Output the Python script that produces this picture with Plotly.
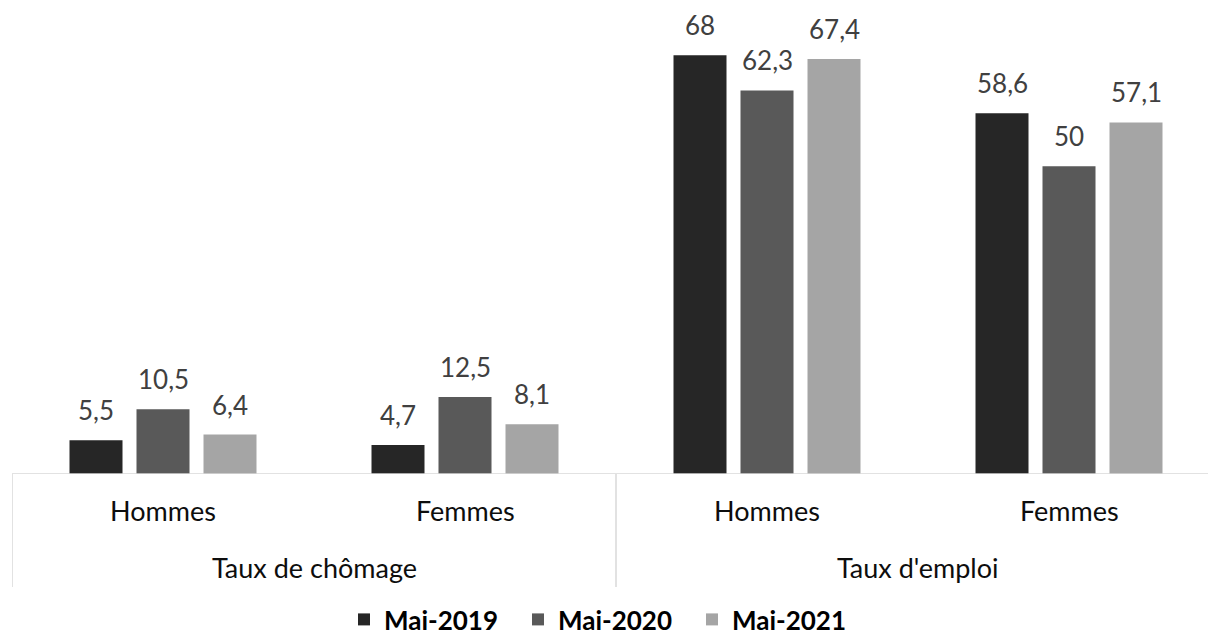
import plotly.graph_objects as go

groups = ["Taux de chômage", "Taux de chômage", "Taux d'emploi", "Taux d'emploi"]
sexes = ["Hommes", "Femmes", "Hommes", "Femmes"]
group_labels = ["Taux de chômage", "Taux d'emploi"]
series_names = ["Mai-2019", "Mai-2020", "Mai-2021"]
mai2019 = [5.5, 4.7, 68, 58.6]
mai2020 = [10.5, 12.5, 62.3, 50]
mai2021 = [6.4, 8.1, 67.4, 57.1]
colors = ["#262626", "#595959", "#A5A5A5"]

FONT = "Lato"
CAT_PX = 302          # pixel width of one category
BAR_STEP_PX = 67      # distance between bar centres within a group


def fmt(v):
    return ("%g" % v).replace(".", ",")


xs = list(range(len(sexes)))
fig = go.Figure()
annotations = []
for k, (name, vals, col) in enumerate(zip(series_names, [mai2019, mai2020, mai2021], colors)):
    fig.add_trace(go.Bar(x=xs, y=vals, name=name, marker_color=col, marker_line_width=0))
    for i, v in enumerate(vals):
        annotations.append(dict(x=i, y=v, xref="x", yref="y", text=fmt(v), showarrow=False,
                                xshift=(k - 1) * BAR_STEP_PX, yshift=12, yanchor="bottom",
                                font=dict(size=26, color="#404040", family=FONT)))

for i, s in enumerate(sexes):
    annotations.append(dict(x=i, y=-0.0858, xref="x", yref="paper", text=s,
                            showarrow=False, font=dict(size=27, color="#0d0d0d", family=FONT),
                            yanchor="middle"))
for j, g in enumerate(group_labels):
    annotations.append(dict(x=0.5 + 2 * j, y=-0.2158, xref="x", yref="paper", text=g,
                            showarrow=False, font=dict(size=27, color="#0d0d0d", family=FONT),
                            yanchor="middle"))

line_col = "#d9d9d9"
shapes = [dict(type="line", xref="paper", yref="y", x0=0, x1=1, y0=0, y1=0,
               line=dict(color=line_col, width=1.5))]
for xv in [-0.5, 1.5]:
    shapes.append(dict(type="line", xref="x", yref="paper", x0=xv, x1=xv, y0=0, y1=-0.262,
                       line=dict(color=line_col, width=1.5)))

W, H = 1208, 640
L = 12
plot_w = W - L
fig.update_layout(
    width=W, height=H,
    margin=dict(l=L, r=0, t=43, b=166, autoexpand=False),
    paper_bgcolor="white", plot_bgcolor="white",
    barmode="group", bargap=0.3344, bargroupgap=0.209,
    xaxis=dict(range=[-0.5, plot_w / CAT_PX - 0.5], showticklabels=False, showgrid=False,
               zeroline=False, showline=False),
    yaxis=dict(range=[0, 70], visible=False, showgrid=False, zeroline=False),
    showlegend=True,
    legend=dict(orientation="h", x=0.4958, xanchor="center", y=-0.3376, yanchor="middle",
                font=dict(size=26, color="#000000", family=FONT, weight="bold"),
                entrywidth=129, entrywidthmode="pixels", traceorder="normal"),
    annotations=annotations, shapes=shapes,
    font=dict(family=FONT),
)

post = (
    "var g=document.getElementById('{plot_id}');"
    "document.documentElement.style.margin='0';document.documentElement.style.padding='0';"
    "document.documentElement.style.overflow='hidden';"
    "document.body.style.margin='0';document.body.style.padding='0';"
    "document.body.style.overflow='hidden';"
    "g.style.display='block';"
)
fig.write_html("out.html", config={"displayModeBar": False}, post_script=post)
